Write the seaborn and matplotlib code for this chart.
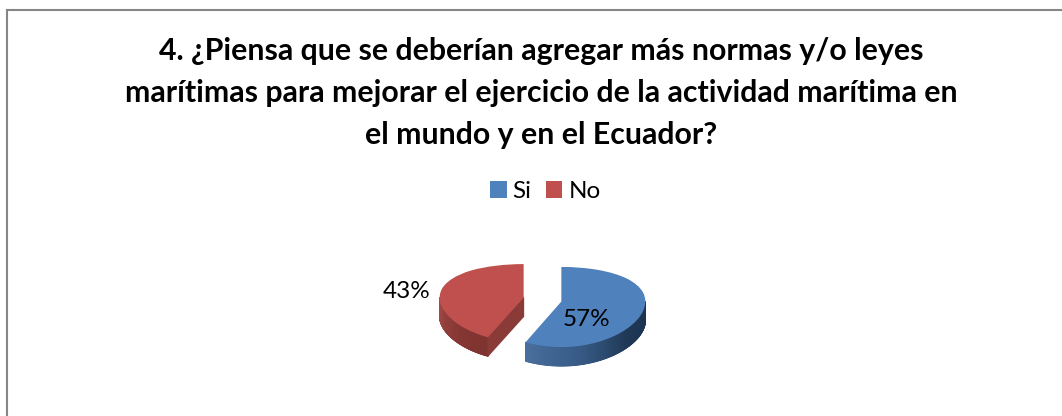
# Pie chart, encuesta pregunta 4 (3D look built on top of a plain pie)
import numpy as np
import matplotlib
matplotlib.use('Agg')
import matplotlib.pyplot as plt
from matplotlib.colors import LinearSegmentedColormap
from matplotlib.lines import Line2D
from matplotlib.patches import Patch
import seaborn as sns

# Data
categorias = ['Si', 'No']
valores = [57, 43]
titulo = ('4. ¿Piensa que se deberían agregar más normas y/o leyes\n'
          'marítimas para mejorar el ejercicio de la actividad marítima en\n'
          'el mundo y en el Ecuador?')

W, H = 1062, 416
sns.set_theme(style='white')
plt.rcParams['font.family'] = ['Lato', 'DejaVu Sans']

colores = ['#4F81BD', '#C0504D']
rampas = [['#4A6F9E', '#375A85', '#1F3855', '#1C3350'],
          ['#A8504C', '#93403D', '#843632', '#7E3431']]
TEXTO = '#000000'
RX, DEPTH = 84.0, 19.0
CX, CY = 542.5, 299.5

# Tilt: the far half of the ellipse is flatter than the near half
A, B = 39.5, -5.5
def forward(y):
    y = np.asarray(y, dtype=float)
    return A * y + B * y * y
def inverse(p):
    p = np.asarray(p, dtype=float)
    return (-A + np.sqrt(np.maximum(A * A + 4 * B * p, 0.0))) / (2 * B)

fig = plt.figure(figsize=(W / 100, H / 100), dpi=100)
fig.patch.set_facecolor('white')

# Frame: only left and top edges are in the crop
fig.add_artist(Line2D([6.5 / W, 6.5 / W, 1], [0, 1 - 10 / H, 1 - 10 / H],
                      color='#868686', lw=1.5, solid_joinstyle='miter'))

px_top, px_bot = 240, 385
ax = fig.add_axes([0, 1 - px_bot / H, 1, (px_bot - px_top) / H])
ax.patch.set_alpha(0)

wedges, _ = ax.pie(valores, colors=colores, startangle=90, counterclock=False,
                   explode=[0.23, 0.23], wedgeprops={'linewidth': 0})
ax.set_aspect('auto')
ax.set_yscale('function', functions=(forward, inverse))
ax.set_xlim(-CX / RX, (W - CX) / RX)
ax.set_ylim(inverse(CY - px_bot), inverse(CY - px_top))
ax.set_xticks([])
ax.set_yticks([])
ax.axis('off')

# Side walls from the angles the pie computed
def pared(xs, ys, rampa, z):
    X = np.vstack([xs, xs])
    Y = np.vstack([ys, inverse(forward(ys) - DEPTH)])
    C = np.vstack([np.linspace(0, 1, len(xs))] * 2)
    cmap = LinearSegmentedColormap.from_list('r', rampa)
    ax.pcolormesh(X, Y, C, cmap=cmap, shading='gouraud', zorder=z)

for w, rampa in zip(wedges, rampas):
    w.set_zorder(3)
    cx, cy = w.center
    t1, t2 = sorted([w.theta1, w.theta2])
    # only the near half of the rim shows a wall
    ang = np.radians(np.linspace(t1, t2, 400))
    ang = ang[np.sin(ang) <= 0.0]
    pared(cx + np.cos(ang), cy + np.sin(ang), rampa, 1)

# Cut face of the red slice, vertex down to its lower tip
r = wedges[1]
a = np.radians(max(r.theta1, r.theta2))
xs = np.array([r.center[0], r.center[0] + np.cos(a)])
ys = np.array([r.center[1], r.center[1] + np.sin(a)])
pared(xs, ys, ['#8A3A37', '#8A3A37'], 2)

# Percent labels
fig.text(586.5 / W, 1 - 320 / H, f'{valores[0]}%', ha='center', va='center',
         fontsize=17.5, color=TEXTO, zorder=5)
fig.text(406.5 / W, 1 - 291 / H, f'{valores[1]}%', ha='center', va='center',
         fontsize=17.5, color=TEXTO, zorder=5)

# Title and legend
fig.text(541 / W, 1 - 93 / H, titulo, ha='center', va='center', fontsize=21.8,
         fontweight='bold', color=TEXTO, linespacing=1.6)
handles = [Patch(facecolor=c, edgecolor='none') for c in colores]
fig.legend(handles, categorias, loc='center', bbox_to_anchor=(545.5 / W, 1 - 191.5 / H),
           ncol=2, frameon=False, fontsize=17.5, handlelength=0.66, handleheight=0.66,
           handletextpad=0.24, columnspacing=0.62, labelcolor=TEXTO)

fig.savefig('out.png', dpi=100)
